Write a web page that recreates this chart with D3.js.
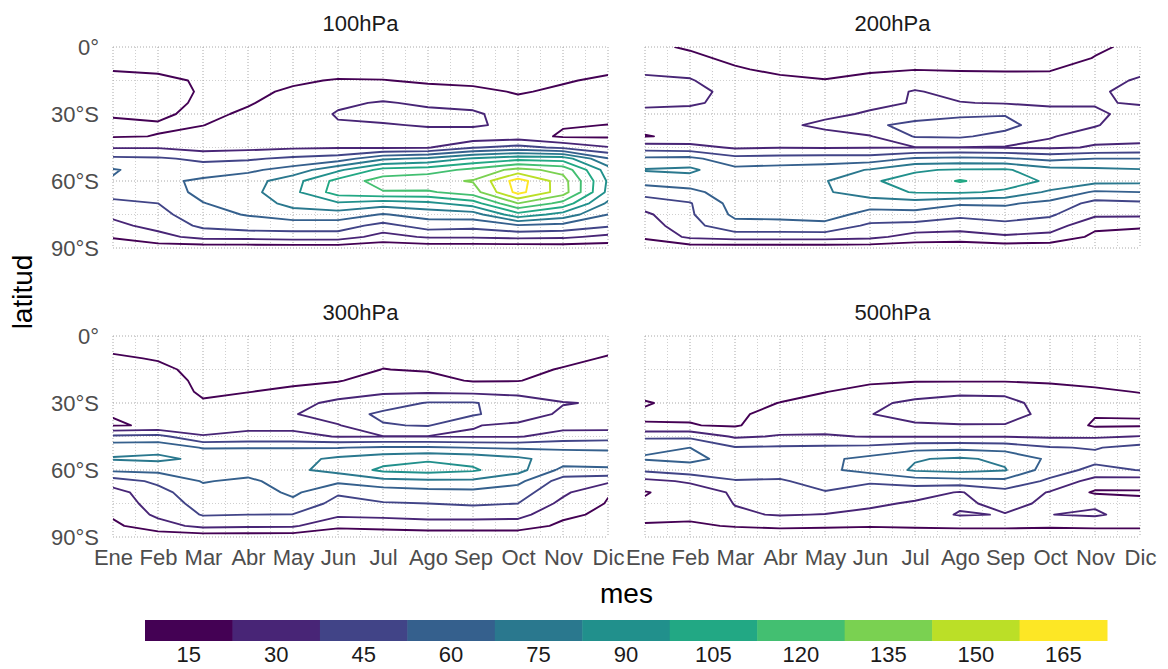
<!DOCTYPE html>
<html>
<head>
<meta charset="utf-8">
<script src="https://cdn.jsdelivr.net/npm/d3@7"></script>
<style>
  html, body { margin: 0; padding: 0; background: #ffffff; }
  svg { display: block; font-family: "Liberation Sans", Arial, Helvetica, sans-serif; }
</style>
</head>
<body>
<svg id="chart" width="1168" height="669"></svg>
<script>
// Months (x axis) and latitudes of the grid rows (0° to 90°S)
const meses = ["Ene", "Feb", "Mar", "Abr", "May", "Jun", "Jul", "Ago", "Sep", "Oct", "Nov", "Dic"];
const latitudes = [0, 5, 10, 15, 20, 25, 30, 35, 40, 45, 50, 55, 60, 65, 70, 75, 80, 85, 90];
const latTicks = [0, 30, 60, 90];
const latTickLabels = ["0°", "30°S", "60°S", "90°S"];

// Contour levels and their colours (viridis, 11 steps)
const niveles = [15, 30, 45, 60, 75, 90, 105, 120, 135, 150, 165];
const colores = ["#440154", "#482576", "#414487", "#35608D", "#2A788E", "#21908C",
                 "#22A884", "#43BF71", "#7AD151", "#BBDF27", "#FDE725"];

const paneles = ["100hPa", "200hPa", "300hPa", "500hPa"];

// One row per month, values from 0° to 90°S every 5°
const p100 = [
  [5, 10, 14.5, 18, 20, 19, 16, 13, 14, 29, 48, 61, 59, 50, 42, 33, 26, 16, 8],
  [4, 8, 13, 18, 19, 19, 17, 14, 15.3, 29, 47, 55, 56, 52, 45, 40, 35, 25, 8],
  [3, 6, 9, 13.5, 14, 13, 12, 14.8, 20, 24, 42, 52, 63, 64, 59.5, 55, 48, 35, 6],
  [2, 5, 8, 10, 12, 14, 17, 20, 22, 26, 43, 57, 68, 70, 66, 61, 52, 36, 6],
  [2, 4, 7, 13, 17, 20, 23, 25, 24, 28, 48, 66, 84, 86, 80, 68, 52, 38, 6],
  [1, 4, 9, 16, 22, 28, 31, 29, 26, 29, 52, 87, 110, 112, 88, 68, 52, 38, 6],
  [1, 4, 9, 15.5, 24, 31, 34, 29, 25, 28, 72, 110, 127, 119, 82, 59, 40, 24, 5],
  [1, 3, 7, 13, 20, 28, 33, 31, 25, 29, 78, 113, 131, 118, 86, 66, 52, 32, 5],
  [1, 3, 7, 12, 18, 26, 32, 32, 20, 44, 92, 124, 136, 128, 98, 68, 50, 32, 5],
  [1, 5, 8, 11, 14, 18, 24, 26, 22, 50, 100, 140, 172, 170, 135, 100, 58, 34, 5],
  [2, 4, 9, 14, 17, 20, 19, 16, 13, 42, 98, 130, 141, 142, 115, 84, 55, 33, 6],
  [3, 8, 13, 17, 20, 20, 18, 14.8, 13, 31, 61, 82, 88, 86, 72, 60, 47, 26, 6]
];

const p200 = [
  [17, 21, 28, 32, 34, 33, 26, 18, 14.5, 38, 63, 76, 66, 50, 38, 27, 22, 17, 7],
  [14, 17, 26, 31, 33, 32, 25, 19, 17, 36, 64, 78, 68, 56, 44, 43, 40, 33, 7],
  [11, 13, 16, 22, 27, 26, 24, 21, 20, 28, 50, 64, 70, 68, 66, 63, 55, 37, 6],
  [8, 10, 13, 17, 21, 24, 26, 28, 25, 29.5, 51, 66, 72, 71, 68, 64, 55, 37, 6],
  [6, 8, 11, 15.5, 19, 23, 28, 32, 27, 29, 52, 68, 74, 73, 70, 66, 56, 37, 6],
  [4, 7, 13.5, 18, 24, 28, 31, 43, 29, 29.5, 52, 76, 89, 84, 66, 55, 42, 34, 6],
  [5, 10, 14.5, 24, 31, 30.5, 40, 48, 46, 29.5, 62, 89, 93, 91, 68, 55, 40, 24, 6],
  [4, 9, 14, 21, 26, 30.5, 42, 52, 47, 29.5, 64, 91, 106.5, 92, 62, 48, 38, 22, 6],
  [3, 8, 13.5, 21, 26, 29, 44, 50, 40, 29, 62, 92, 96, 88, 62, 53, 40, 28, 6],
  [4, 9, 14, 20, 26, 28, 34, 36, 30.5, 28, 56, 80, 88, 72, 56, 47, 38, 25, 6],
  [13, 15.5, 22, 27, 29, 29.5, 31, 30.5, 27, 31, 60, 78, 80, 58, 40, 33, 18, 12, 5],
  [18, 24, 28, 31, 32, 30.5, 28, 26, 25, 33, 60, 76, 79, 60, 42, 33, 16, 12, 5]
];

const p300 = [
  [8, 12, 17, 21, 23, 22, 19, 15.5, 14, 48, 70, 76, 63, 38, 24, 22, 17, 12, 6],
  [6, 10, 14, 18, 21, 21, 19, 17, 16.5, 50, 70, 78, 64, 48, 40, 36, 33, 24, 6],
  [4, 7, 9, 11, 12, 13.5, 16, 20, 23, 31, 59, 72, 68, 61, 55, 51, 46, 34, 6],
  [3, 6, 9, 11, 13, 14.8, 19, 23, 27, 33, 59.5, 70, 66, 57, 52, 49, 45, 33, 6],
  [3, 5, 8, 10, 13, 17, 26, 29, 27, 33, 59.5, 70, 72, 67, 63, 56, 44.5, 32, 6],
  [3, 5, 8, 11, 14, 24, 33, 38, 29, 29.5, 59.5, 78, 80, 63, 47, 40, 33, 18, 5],
  [5, 9, 13, 15.2, 22, 28, 38, 48, 44, 29.5, 62, 84, 93, 70, 52, 44, 34, 20, 5],
  [4, 8, 11, 14, 19, 28, 46, 50, 46, 29.5, 62, 88, 96, 72, 55, 45, 36, 22, 5],
  [3, 6, 9, 12, 14, 27, 46, 47, 30.5, 29, 59.5, 85, 92, 72, 56, 47, 36, 22, 5],
  [3, 6, 9, 12, 14.5, 26, 38, 36, 28, 29, 58, 78, 80, 64, 52, 45, 35, 22, 5],
  [5, 8, 12, 15.8, 20, 25, 30.5, 28, 25, 36, 58, 68, 56, 38, 33, 26, 18, 12, 4],
  [8, 12, 16, 20, 24, 28, 29, 27, 24, 38, 58, 66, 58, 33, 16, 14, 12, 10, 4]
];

const p500 = [
  [3, 5, 7, 9, 11, 13, 15.5, 14, 15.5, 42, 58, 61, 48, 26, 14, 17, 18, 14, 5],
  [3, 5, 7, 9, 11, 12, 13, 13.5, 15.5, 42, 60, 63, 54, 32, 22, 20, 18, 13, 5],
  [2, 4, 6, 8, 10, 11, 12, 13, 13.5, 28, 46, 56, 53, 44, 32, 30.5, 28, 16, 5],
  [2, 4, 6, 8, 10, 12, 15.2, 19, 24, 31, 47, 57, 53, 43, 38, 34, 31, 18, 5],
  [2, 4, 6, 9, 12, 14.8, 18, 22, 26, 31, 48, 57, 57, 52, 44, 38, 29.5, 17, 5],
  [2, 4, 7, 10, 13.5, 18, 27, 29.5, 28, 29.5, 49, 64, 65, 47, 38, 33, 26, 16, 5],
  [2, 4, 7, 10, 14, 24, 33, 36, 28, 29.5, 55, 74, 77, 52, 36, 28, 24, 17, 5],
  [2, 4, 7, 10, 14, 26, 38, 40, 29, 29.5, 56, 77, 80, 54, 29, 28, 31, 18, 5],
  [2, 4, 7, 10, 14, 26, 36, 38, 29, 29.5, 54, 72, 76, 56, 40, 33, 29.5, 18, 5],
  [2, 4, 7, 10, 14, 18, 22, 24, 26, 28, 46, 57, 52, 42, 29, 28, 29.8, 17, 5],
  [3, 5, 8, 11, 13.5, 16, 18, 16, 13, 28, 44, 49, 41, 24, 13, 28, 32, 18, 5],
  [3, 5, 8, 11, 13, 14.8, 17, 16, 13.5, 30.5, 50, 54, 45.5, 22, 13.5, 18, 24, 18, 5]
];

const datos = [p100, p200, p300, p500];

// ---- layout ----
const svg = d3.select("#chart");
const cajas = [
  { x0: 113, x1: 608, y0: 47,  y1: 248, ejeX: false, ejeY: true  },
  { x0: 645, x1: 1140, y0: 47, y1: 248, ejeX: false, ejeY: false },
  { x0: 113, x1: 608, y0: 336, y1: 537, ejeX: true,  ejeY: true  },
  { x0: 645, x1: 1140, y0: 336, y1: 537, ejeX: true, ejeY: false }
];
const defs = svg.append("defs");

cajas.forEach((c, k) => {
  const x = d3.scaleLinear().domain([0, meses.length - 1]).range([c.x0, c.x1]);
  const y = d3.scaleLinear().domain([latitudes[0], latitudes[latitudes.length - 1]]).range([c.y0, c.y1]);
  const g = svg.append("g");

  // minor grid (half months, 15° steps between labelled latitudes)
  const menores = d3.range(meses.length - 1).map(i => i + 0.5);
  const latMenores = d3.range(latTicks.length - 1).map(i => (latTicks[i] + latTicks[i + 1]) / 2);
  g.append("g").selectAll("line").data(menores).join("line")
    .attr("x1", d => x(d)).attr("x2", d => x(d)).attr("y1", c.y0).attr("y2", c.y1)
    .attr("stroke", "#cfcfcf").attr("stroke-width", 1).attr("stroke-dasharray", "1,2");
  g.append("g").selectAll("line").data(latMenores).join("line")
    .attr("y1", d => y(d)).attr("y2", d => y(d)).attr("x1", c.x0).attr("x2", c.x1)
    .attr("stroke", "#cfcfcf").attr("stroke-width", 1).attr("stroke-dasharray", "1,2");
  // major grid
  g.append("g").selectAll("line").data(d3.range(meses.length)).join("line")
    .attr("x1", d => x(d)).attr("x2", d => x(d)).attr("y1", c.y0).attr("y2", c.y1)
    .attr("stroke", "#a8a8a8").attr("stroke-width", 1).attr("stroke-dasharray", "1,2");
  g.append("g").selectAll("line").data(latTicks).join("line")
    .attr("y1", d => y(d)).attr("y2", d => y(d)).attr("x1", c.x0).attr("x2", c.x1)
    .attr("stroke", "#a8a8a8").attr("stroke-width", 1).attr("stroke-dasharray", "1,2");

  // contour lines: grid padded by one repeated cell on each side so that the
  // polygon borders fall outside the clipped panel and only isolines remain
  const grid = datos[k];
  const nm = meses.length, nl = latitudes.length;
  const nx = nm + 2, ny = nl + 2;
  const vals = new Array(nx * ny);
  for (let j = 0; j < ny; j++) {
    const r = Math.max(0, Math.min(nl - 1, j - 1));
    for (let i = 0; i < nx; i++) {
      const m = Math.max(0, Math.min(nm - 1, i - 1));
      vals[j * nx + i] = grid[m][r];
    }
  }
  const dLat = latitudes[1] - latitudes[0];
  const proj = d3.geoTransform({
    point(px, py) { this.stream.point(x(px - 1.5), y(latitudes[0] + (py - 1.5) * dLat)); }
  });
  const path = d3.geoPath(proj);
  const iso = d3.contours().size([nx, ny]).thresholds(niveles)(vals);

  const clipId = "clip" + k;
  defs.append("clipPath").attr("id", clipId).append("rect")
    .attr("x", c.x0).attr("y", c.y0).attr("width", c.x1 - c.x0).attr("height", c.y1 - c.y0);

  g.append("g").attr("clip-path", `url(#${clipId})`)
    .selectAll("path").data(iso).join("path")
    .attr("d", path)
    .attr("fill", "none")
    .attr("stroke", d => colores[niveles.indexOf(d.value)])
    .attr("stroke-width", 1.9)
    .attr("stroke-linejoin", "round");

  // strip title
  svg.append("text")
    .attr("x", (c.x0 + c.x1) / 2).attr("y", c.y0 - 16)
    .attr("text-anchor", "middle").attr("font-size", 22).attr("fill", "#1a1a1a")
    .text(paneles[k]);

  if (c.ejeX) {
    const ax = svg.append("g").attr("transform", `translate(0,${c.y1})`)
      .call(d3.axisBottom(x).tickValues(d3.range(meses.length)).tickFormat(i => meses[i])
        .tickSize(0).tickPadding(12));
    ax.select(".domain").remove();
    ax.selectAll("text").attr("font-size", 22).attr("fill", "#4d4d4d")
      .attr("font-family", "Liberation Sans, Arial, sans-serif");
  }
  if (c.ejeY) {
    const ay = svg.append("g").attr("transform", `translate(${c.x0},0)`)
      .call(d3.axisLeft(y).tickValues(latTicks).tickFormat((d, i) => latTickLabels[i])
        .tickSize(0).tickPadding(14));
    ay.select(".domain").remove();
    ay.selectAll("text").attr("font-size", 22).attr("fill", "#4d4d4d")
      .attr("font-family", "Liberation Sans, Arial, sans-serif");
  }
});

// axis titles
svg.append("text").attr("x", 626.5).attr("y", 603).attr("text-anchor", "middle")
  .attr("font-size", 28).attr("fill", "#000").text("mes");
svg.append("text").attr("transform", "translate(32,292) rotate(-90)").attr("text-anchor", "middle")
  .attr("font-size", 28).attr("fill", "#000").text("latitud");

// colour legend
const leyenda = d3.scaleBand().domain(niveles).range([145, 1107]).paddingInner(0);
const gl = svg.append("g");
gl.selectAll("rect").data(niveles).join("rect")
  .attr("x", d => leyenda(d)).attr("y", 620)
  .attr("width", leyenda.bandwidth() + 0.5).attr("height", 21)
  .attr("fill", (d, i) => colores[i]);
gl.selectAll("text").data(niveles).join("text")
  .attr("x", d => leyenda(d) + leyenda.bandwidth() / 2).attr("y", 662)
  .attr("text-anchor", "middle").attr("font-size", 22).attr("fill", "#1a1a1a")
  .text(d => d);
</script>
</body>
</html>
